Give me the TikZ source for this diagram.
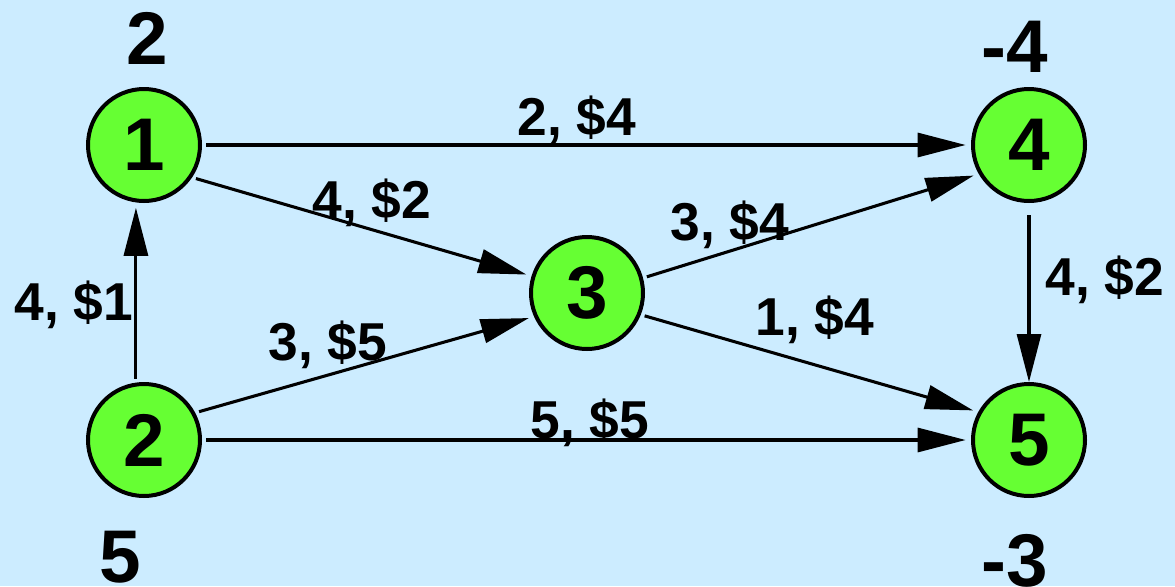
\documentclass[tikz,border=0pt]{standalone}
\usepackage{fontspec}
\setmainfont{Liberation Sans}
\usetikzlibrary{arrows.meta}
\definecolor{bg}{HTML}{CCECFF}
\definecolor{ngreen}{HTML}{66FF33}
\begin{document}
\begin{tikzpicture}[x=0.75pt,y=-0.75pt,
  vertex/.style={circle,draw=black,fill=ngreen,line width=3pt,minimum size=84pt,inner sep=0pt,
    font=\fontsize{56}{60}\selectfont\bfseries},
  supply/.style={font=\fontsize{56}{60}\selectfont\bfseries,inner sep=0pt},
  elabel/.style={font=\fontsize{40}{44}\selectfont\bfseries,inner sep=0pt},
  edge/.style={line width=2.3pt,-{Triangle[length=36pt,width=18pt]},shorten <=3pt,shorten >=4pt}]
\fill[bg] (0,0) rectangle (1175,586);
\useasboundingbox (0,0) rectangle (1175,586);
\node[vertex] (n1) at (144,145) {1};
\node[vertex] (n4) at (1029,145) {4};
\node[vertex] (n3) at (587,293) {3};
\node[vertex] (n2) at (144,440) {2};
\node[vertex] (n5) at (1029,440) {5};
\node[supply] (s1) at (147,38) {2};
\node[supply] (s4) at (1015,47) {-4};
\node[supply] (s2) at (120,557) {5};
\node[supply] (s5) at (1015,561) {-3};
\draw[edge] (n1) -- (n4);
\draw[edge] (n1.-34) -- (n3.163);
\draw[edge] (n2.98) -- (n1.262);
\draw[edge] (n2.28) -- (n3.204);
\draw[edge] (n2) -- (n5);
\draw[edge] (n3.15) -- (n4.210);
\draw[edge] (n3.-22) -- (n5.151);
\draw[edge,shorten <=9pt,shorten >=0pt] (n4) -- (n5);
\node[elabel] (l14) at (577,120) {2, \$4};
\node[elabel] (l13) at (372,203) {4, \$2};
\node[elabel] (l21) at (74,305) {4, \$1};
\node[elabel] (l23) at (328,345) {3, \$5};
\node[elabel] (l25) at (590,423) {5, \$5};
\node[elabel] (l34) at (730,225) {3, \$4};
\node[elabel] (l35) at (815,320) {1, \$4};
\node[elabel] (l45) at (1105,280) {4, \$2};
\end{tikzpicture}
\end{document}
